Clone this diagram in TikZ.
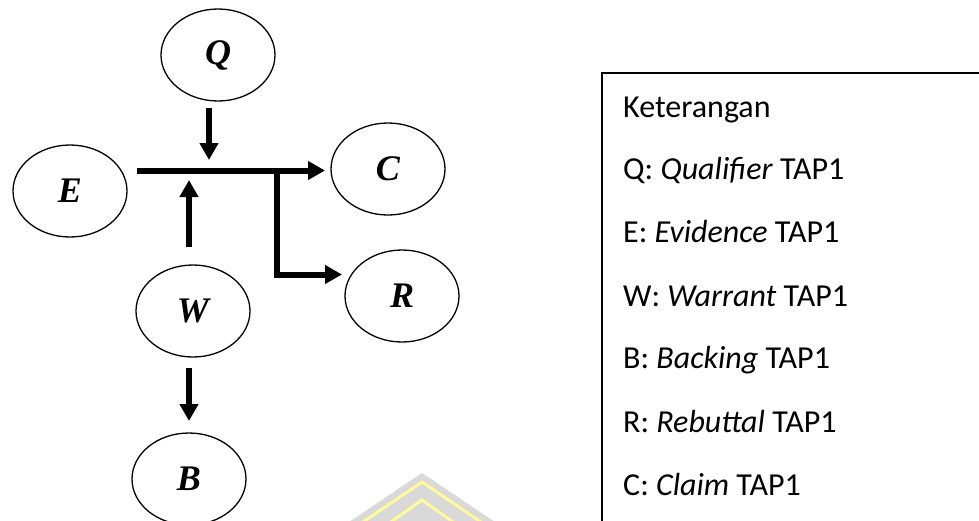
\documentclass[tikz,border=0pt]{standalone}
\usepackage{fontspec}
\setmainfont{Liberation Serif}
\newfontfamily\legendfont{Carlito}
\usetikzlibrary{arrows.meta,shapes.geometric}

\tikzset{
  part/.style={draw, ellipse, line width=1.3pt, minimum width=114pt, minimum height=92pt,
    inner sep=0pt, font=\fontsize{36}{40}\selectfont\bfseries\itshape},
  link/.style={line width=6pt, -{Triangle[length=17pt,width=18pt]}},
  legendtext/.style={anchor=base west, inner sep=0pt, font=\legendfont\fontsize{32}{36}\selectfont},
}

\begin{document}
\begin{tikzpicture}[x=1pt,y=-1pt]
\useasboundingbox (0,0) rectangle (979,520);
\clip (0,0) rectangle (979,520);

% faint emblem at the foot of the page
\fill[gray!30] (422,473) -- (346,524) -- (498,524) -- cycle;
\draw[yellow!40, line width=3pt] (360,524) -- (422,482) -- (484,524);
\draw[yellow!40, line width=3pt] (388,524) -- (422,500) -- (456,524);

% Toulmin elements
\node[part] (Q) at (218,55)  {Q};
\node[part] (E) at (70,191)  {E};
\node[part] (C) at (388,169) {C};
\node[part] (R) at (402,296) {R};
\node[part] (W) at (193,311) {W};
\node[part] (B) at (189,479) {B};

% junction points on the argument line
\coordinate (start) at (137,170.5);
\coordinate (ctip)  at (325,170.5);
\coordinate (qtop)  at (209,108);
\coordinate (qtip)  at (209,160);
\coordinate (wbot)  at (189,247);
\coordinate (wtip)  at (189,180);
\coordinate (fork)  at (276.5,168);
\coordinate (bend)  at (276.5,274.5);
\coordinate (rtip)  at (342,274.5);
\coordinate (btop)  at (189,368);
\coordinate (btip)  at (189,421);

% arrows
\draw[link] (start) -- (ctip);
\draw[link] (qtop) -- (qtip);
\draw[link] (wbot) -- (wtip);
\draw[link] (fork) -- (bend) -- (rtip);
\draw[link] (btop) -- (btip);

% legend
\draw[line width=1.3pt] (602,73) rectangle (1000,560);
\node[legendtext] (k0) at (623,117) {Keterangan};
\node[legendtext] (k1) at (623,179) {Q: \textit{Qualifier} TAP1};
\node[legendtext] (k2) at (623,242) {E: \textit{Evidence} TAP1};
\node[legendtext] (k3) at (623,306) {W: \textit{Warrant} TAP1};
\node[legendtext] (k4) at (623,368) {B: \textit{Backing} TAP1};
\node[legendtext] (k5) at (623,432) {R: \textit{Rebuttal} TAP1};
\node[legendtext] (k6) at (623,495) {C: \textit{Claim} TAP1};
\end{tikzpicture}
\end{document}
